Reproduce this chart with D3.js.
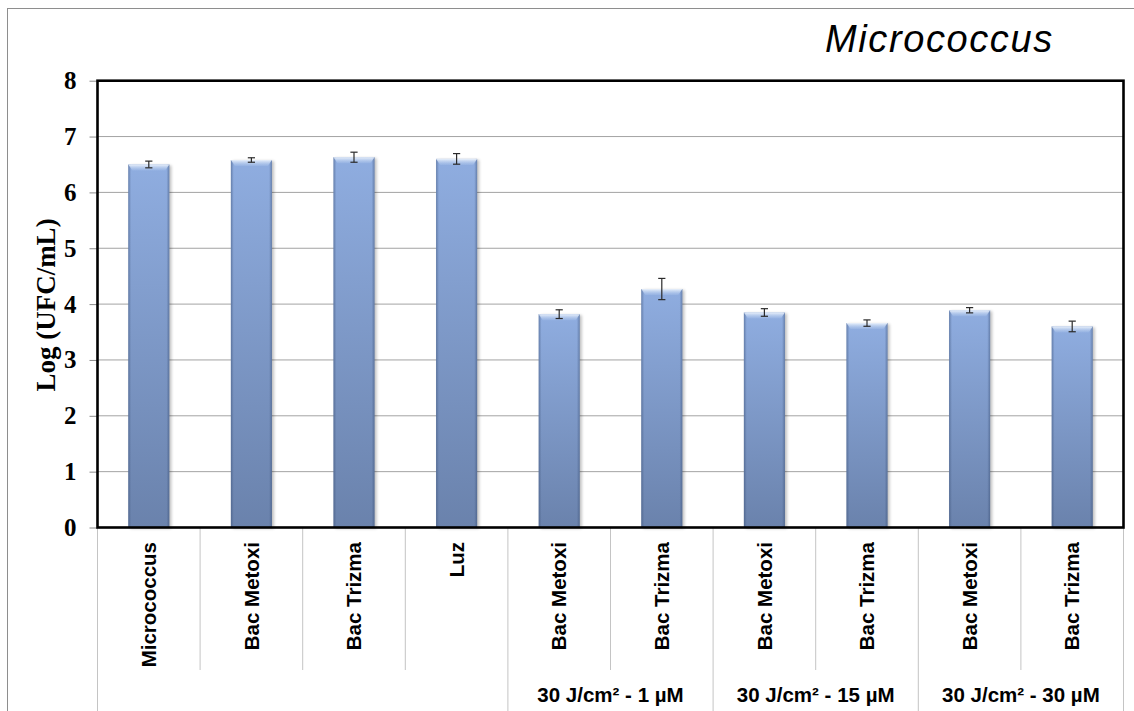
<!DOCTYPE html>
<html>
<head>
<meta charset="utf-8">
<script src="https://cdn.jsdelivr.net/npm/d3@7"></script>
<style>
  body { margin: 0; background: #fff; }
  svg { display: block; }
</style>
</head>
<body>
<div id="chart"></div>
<script>
// data
const categories = ["Micrococcus", "Bac Metoxi", "Bac Trizma", "Luz",
                    "Bac Metoxi", "Bac Trizma", "Bac Metoxi", "Bac Trizma", "Bac Metoxi", "Bac Trizma"];
const means = [6.50, 6.58, 6.63, 6.60, 3.82, 4.27, 3.85, 3.66, 3.89, 3.60];
const errors = [0.06, 0.04, 0.09, 0.095, 0.078, 0.19, 0.068, 0.057, 0.047, 0.095];
const groupLabels = ["", "30 J/cm² - 1 µM", "30 J/cm² - 15 µM", "30 J/cm² - 30 µM"];
const groupSizes = [4, 2, 2, 2];
const yTicks = [0, 1, 2, 3, 4, 5, 6, 7, 8];

const W = 1134, H = 711;
const plot = { left: 97.5, right: 1123.5, top: 80.7, bottom: 527.5 };

const svg = d3.select("#chart")
    .append("svg")
    .attr("width", W)
    .attr("height", H);

svg.append("rect").attr("width", W).attr("height", H).attr("fill", "#fff");

// outer chart border (runs off the right/bottom of the picture)
svg.append("rect")
    .attr("x", 7.5).attr("y", 8.5)
    .attr("width", W + 20).attr("height", H + 20)
    .attr("fill", "none")
    .attr("stroke", "#8e8e8e");

const idx = categories.map((d, i) => i);
const x = d3.scaleBand()
    .domain(idx)
    .range([plot.left, plot.right])
    .paddingInner(0).paddingOuter(0);

const y = d3.scaleLinear()
    .domain([0, 8])
    .range([plot.bottom, plot.top]);

// gradients for the bevelled bars
const defs = svg.append("defs");
const g1 = defs.append("linearGradient").attr("id", "barFill")
    .attr("x1", 0).attr("y1", 0).attr("x2", 0).attr("y2", 1);
g1.append("stop").attr("offset", "0%").attr("stop-color", "#8fade0");
g1.append("stop").attr("offset", "100%").attr("stop-color", "#6a82ac");

const g2 = defs.append("linearGradient").attr("id", "barSides")
    .attr("x1", 0).attr("y1", 0).attr("x2", 1).attr("y2", 0);
g2.append("stop").attr("offset", "0%").attr("stop-color", "#34496e").attr("stop-opacity", 0.45);
g2.append("stop").attr("offset", "7%").attr("stop-color", "#34496e").attr("stop-opacity", 0);
g2.append("stop").attr("offset", "93%").attr("stop-color", "#34496e").attr("stop-opacity", 0);
g2.append("stop").attr("offset", "100%").attr("stop-color", "#34496e").attr("stop-opacity", 0.45);

const g3 = defs.append("linearGradient").attr("id", "barTop")
    .attr("x1", 0).attr("y1", 0).attr("x2", 0).attr("y2", 1);
g3.append("stop").attr("offset", "0%").attr("stop-color", "#eef4fc").attr("stop-opacity", 0.95);
g3.append("stop").attr("offset", "100%").attr("stop-color", "#b9cff0").attr("stop-opacity", 0.2);

defs.append("filter").attr("id", "shadow")
    .append("feGaussianBlur").attr("stdDeviation", 1.5);

// gridlines
svg.append("g")
    .selectAll("line")
    .data(yTicks.filter(t => t > 0 && t < 8))
    .enter()
    .append("line")
    .attr("x1", plot.left).attr("x2", plot.right)
    .attr("y1", d => y(d)).attr("y2", d => y(d))
    .attr("stroke", "#a3a3a3")
    .attr("stroke-width", 1);

// y axis
const yAxis = svg.append("g")
    .attr("transform", `translate(${plot.left}, 0)`)
    .call(d3.axisLeft(y).tickValues(yTicks).tickSize(8).tickPadding(13));
yAxis.select(".domain").remove();
yAxis.selectAll("line").attr("stroke", "#8a8a8a");
yAxis.selectAll("text")
    .style("font-family", "'Liberation Serif', 'Times New Roman', serif")
    .style("font-size", "25px")
    .style("font-weight", "bold")
    .attr("fill", "#000");

// bars
const bw = x.bandwidth() * 0.4;
const bars = svg.append("g").selectAll("g")
    .data(idx)
    .enter()
    .append("g")
    .attr("transform", i => `translate(${x(i) + (x.bandwidth() - bw) / 2}, 0)`);

bars.append("rect")
    .attr("x", 2).attr("y", i => y(means[i]) + 1)
    .attr("width", bw).attr("height", i => y(0) - y(means[i]))
    .attr("fill", "#000").attr("opacity", 0.25)
    .attr("filter", "url(#shadow)");

bars.append("rect")
    .attr("x", 0).attr("y", i => y(means[i]))
    .attr("width", bw).attr("height", i => y(0) - y(means[i]))
    .attr("fill", "url(#barFill)");

bars.append("rect")
    .attr("x", 0).attr("y", i => y(means[i]))
    .attr("width", bw).attr("height", i => y(0) - y(means[i]))
    .attr("fill", "url(#barSides)");

bars.append("path")
    .attr("d", i => {
        const t = y(means[i]);
        return `M0,${t} L${bw},${t} L${bw - 4},${t + 6} L4,${t + 6} Z`;
    })
    .attr("fill", "url(#barTop)");

// error bars
const eb = svg.append("g").selectAll("g")
    .data(idx)
    .enter()
    .append("g")
    .attr("stroke", "#2a2a2a")
    .attr("stroke-width", 1.2);

eb.append("line")
    .attr("x1", i => x(i) + x.bandwidth() / 2).attr("x2", i => x(i) + x.bandwidth() / 2)
    .attr("y1", i => y(means[i] + errors[i])).attr("y2", i => y(means[i] - errors[i]));
eb.append("line")
    .attr("x1", i => x(i) + x.bandwidth() / 2 - 3.6).attr("x2", i => x(i) + x.bandwidth() / 2 + 3.6)
    .attr("y1", i => y(means[i] + errors[i])).attr("y2", i => y(means[i] + errors[i]));
eb.append("line")
    .attr("x1", i => x(i) + x.bandwidth() / 2 - 3.6).attr("x2", i => x(i) + x.bandwidth() / 2 + 3.6)
    .attr("y1", i => y(means[i] - errors[i])).attr("y2", i => y(means[i] - errors[i]));

// category separators under the axis
const starts = [];
let acc = 0;
groupSizes.forEach(n => { starts.push(acc); acc += n; });
const groupEdges = new Set([...starts, categories.length]);

svg.append("g")
    .selectAll("line")
    .data(d3.range(categories.length + 1))
    .enter()
    .append("line")
    .attr("x1", i => (i < categories.length ? x(i) : plot.right))
    .attr("x2", i => (i < categories.length ? x(i) : plot.right))
    .attr("y1", plot.bottom)
    .attr("y2", i => (groupEdges.has(i) ? H : 670))
    .attr("stroke", "#c4c4c4")
    .attr("stroke-width", 1);

// category labels
const xAxis = svg.append("g")
    .attr("transform", `translate(0, ${plot.bottom})`)
    .call(d3.axisBottom(x).tickSize(0).tickFormat(i => categories[i]));
xAxis.select(".domain").remove();
xAxis.selectAll("text")
    .attr("transform", "rotate(-90)")
    .attr("x", -14.5)
    .attr("y", 0)
    .attr("dy", "0.35em")
    .style("text-anchor", "end")
    .style("font-family", "'Liberation Sans', Arial, sans-serif")
    .style("font-size", "20.5px")
    .style("font-weight", "bold")
    .attr("fill", "#000");

// group labels
svg.append("g")
    .selectAll("text")
    .data(groupLabels)
    .enter()
    .append("text")
    .attr("x", (d, g) => (x(starts[g]) + x(starts[g] + groupSizes[g] - 1) + x.bandwidth()) / 2)
    .attr("y", 701.5)
    .attr("text-anchor", "middle")
    .style("font-family", "'Liberation Sans', Arial, sans-serif")
    .style("font-size", "20.5px")
    .style("font-weight", "bold")
    .text(d => d);

// plot frame
svg.append("rect")
    .attr("x", plot.left).attr("y", plot.top)
    .attr("width", plot.right - plot.left).attr("height", plot.bottom - plot.top)
    .attr("fill", "none")
    .attr("stroke", "#000")
    .attr("stroke-width", 2.6);

// y axis title
svg.append("text")
    .attr("transform", "translate(55, 305) rotate(-90)")
    .attr("text-anchor", "middle")
    .style("font-family", "'Liberation Serif', 'Times New Roman', serif")
    .style("font-size", "27px")
    .style("font-weight", "bold")
    .text("Log (UFC/mL)");

// chart title
svg.append("text")
    .attr("x", 825)
    .attr("y", 52)
    .style("font-family", "'Liberation Sans', Arial, sans-serif")
    .style("font-size", "38px")
    .style("font-style", "italic")
    .style("letter-spacing", "1.6px")
    .text("Micrococcus");
</script>
</body>
</html>
